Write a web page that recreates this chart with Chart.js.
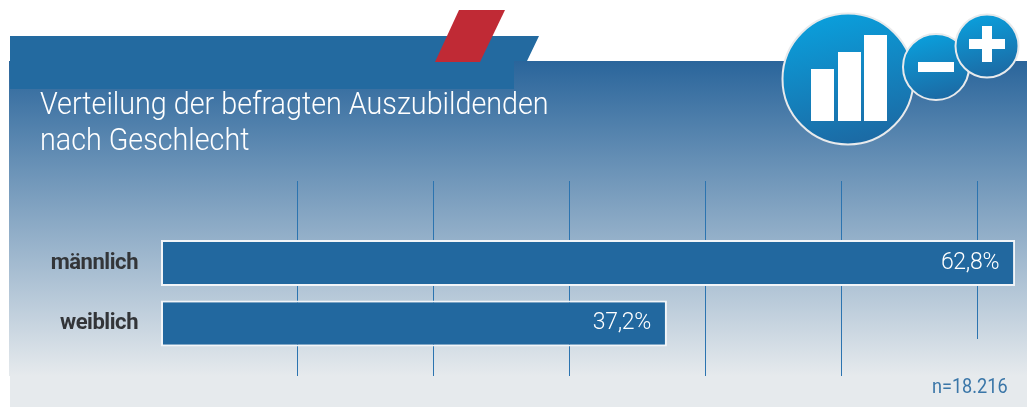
<!DOCTYPE html>
<html lang="de"><head><meta charset="utf-8">
<script src="https://cdn.jsdelivr.net/npm/chart.js@4/dist/chart.umd.min.js"></script>
<style>
html,body{margin:0;padding:0;background:#fff;width:1027px;height:407px;overflow:hidden}
#stage{position:relative;width:1027px;height:407px}
#stage>*{position:absolute}
#panel{left:9px;top:61px;width:1018px;height:315px;background:linear-gradient(#2a659b,#e6eaed)}
#foot{left:10px;top:376px;width:1017px;height:31px;background:#e6eaed}
#deco{left:0;top:0}
canvas{left:0;top:0}
#title{left:40px;top:86px;font:300 32px/35.5px Roboto,sans-serif;color:#fff;white-space:nowrap;transform:scaleX(.897);transform-origin:0 0}
#n{left:932px;top:374px;font:400 20px/24px Roboto,sans-serif;color:#3a76a8;white-space:nowrap;transform:scaleX(.905);transform-origin:0 0}
</style></head><body>
<div id="stage">
<div id="panel"></div><div id="foot"></div>
<svg id="deco" width="1027" height="407" xmlns="http://www.w3.org/2000/svg">
<defs><linearGradient id="g" x1="0.35" y1="0" x2="0.6" y2="1"><stop offset="0" stop-color="#0a9fdc"/><stop offset="1" stop-color="#1c69a3"/></linearGradient></defs>
<path d="M10 36H539L527 61H514V89H10Z" fill="#236aa0"/>
<path d="M459 10H505L480 62H435Z" fill="#c02a35"/>
<circle cx="848" cy="79" r="65.5" fill="url(#g)" stroke="#e8eaec" stroke-width="2"/>
<path d="M811 69h23v52h-23zM838 52h23v69h-23zM864 35h23v86h-23z" fill="#fff"/>
<circle cx="936" cy="67" r="33" fill="url(#g)" stroke="#e8eaec" stroke-width="2"/>
<path d="M918 62h36v10h-36z" fill="#fff"/>
<circle cx="987" cy="46" r="31.5" fill="url(#g)" stroke="#e8eaec" stroke-width="2"/>
<path d="M969 39h13V26h10v13h13v10h-13v13h-10V49h-13z" fill="#fff"/>
</svg>
<canvas id="c" width="1027" height="407"></canvas>
<div id="title">Verteilung der befragten Auszubildenden<br>nach Geschlecht</div>
<div id="n">n=18.216</div>
</div>
<script>
const categories = ["männlich", "weiblich"];
const shares = [62.8, 37.2];
const tickValues = [10, 20, 30, 40, 50, 60];

const gridLines = {
  id: "gridLines",
  beforeDatasetsDraw(chart) {
    const x = chart.scales.x, c = chart.ctx;
    c.save();
    c.strokeStyle = "#2c74b0";
    c.lineWidth = 1;
    tickValues.forEach(v => {
      const px = Math.round(x.getPixelForValue(v)) + 0.5;
      c.beginPath();
      c.moveTo(px, 181);
      c.lineTo(px, v === 60 ? 339 : 376);
      c.stroke();
    });
    c.restore();
  }
};
const valueLabels = {
  id: "valueLabels",
  afterDatasetsDraw(chart) {
    const c = chart.ctx, meta = chart.getDatasetMeta(0);
    c.save();
    c.fillStyle = "#fff";
    c.font = "300 23px Roboto, sans-serif";
    c.letterSpacing = "-0.3px";
    c.textAlign = "right";
    c.textBaseline = "middle";
    meta.data.forEach((bar, i) => {
      c.fillText(shares[i].toFixed(1).replace(".", ",") + "%", bar.x - 16, bar.y);
    });
    c.restore();
  }
};
new Chart(document.getElementById("c"), {
  type: "bar",
  data: { labels: categories, datasets: [{
    data: shares, backgroundColor: "#22689f", borderColor: "#f2f5f8",
    borderWidth: 2, borderSkipped: false,
    barPercentage: 0.76, categoryPercentage: 1
  }]},
  options: {
    indexAxis: "y", responsive: false, animation: false,
    layout: { padding: { left: 161, right: 9.2, top: 232.75, bottom: 53.25 } },
    plugins: { legend: { display: false }, tooltip: { enabled: false } },
    scales: {
      x: { min: 0, max: 63, display: false },
      y: { afterFit(s) { s.width = 0; }, grid: { display: false }, border: { display: false },
           ticks: { display: false } }
    }
  },
  plugins: [gridLines, valueLabels, {
    id: "catLabels",
    afterDraw(chart) {
      const c = chart.ctx, y = chart.scales.y;
      c.save();
      c.fillStyle = "#333538";
      c.font = "700 22px Roboto, sans-serif";
      c.letterSpacing = "-0.45px";
      c.textAlign = "right";
      c.textBaseline = "middle";
      categories.forEach((t, i) => c.fillText(t, 138, y.getPixelForValue(i)));
      c.restore();
    }
  }]
});
</script>
</body></html>
